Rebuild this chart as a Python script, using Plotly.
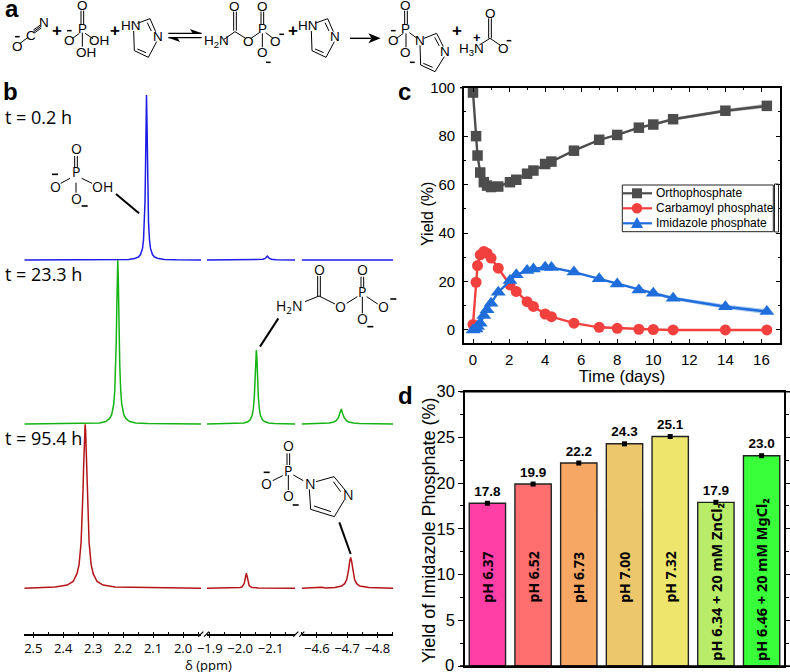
import plotly.graph_objects as go

W, H = 790, 672

# panel b: 31P NMR traces, three axis pieces per spectrum
blue_ppm_1 = [2.53, 2.222, 2.182, 2.162, 2.149, 2.142, 2.1353, 2.132, 2.1287, 2.127, 2.1253, 2.1237, 2.122, 2.1203, 2.1187, 2.117, 2.1153, 2.112, 2.1087, 2.102, 2.095, 2.082, 2.062, 2.022, 1.94]
blue_int_1 = [0, 0.2, 0.6, 1.4, 3, 5.4, 11.6, 20, 38, 58, 90, 137, 165, 137, 90, 58, 38, 20, 11.6, 5.4, 3, 1.4, 0.6, 0.2, 0]
blue_ppm_2 = [-1.89, -2.06, -2.075, -2.082, -2.086, -2.089, -2.092, -2.096, -2.103, -2.118, -2.18]
blue_int_2 = [0, 0.2, 0.7, 1.6, 3, 4, 3, 1.6, 0.7, 0.2, 0]
blue_ppm_3 = [-4.55, -4.853]
blue_int_3 = [0, 0]

green_ppm_1 = [2.53, 2.318, 2.278, 2.258, 2.245, 2.238, 2.2313, 2.228, 2.2247, 2.223, 2.2213, 2.2197, 2.218, 2.2163, 2.2147, 2.213, 2.2113, 2.208, 2.2047, 2.198, 2.191, 2.178, 2.158, 2.118, 1.94]
green_int_1 = [0, 0.4, 1.1, 2.5, 5.6, 9.6, 20, 33, 59, 82, 113.5, 148, 164, 148, 113.5, 82, 59, 33, 20, 9.6, 5.6, 2.5, 1.1, 0.4, 0]
green_ppm_2 = [-1.89, -1.993, -2.013, -2.026, -2.033, -2.0397, -2.043, -2.0463, -2.048, -2.0497, -2.0513, -2.053, -2.0547, -2.0563, -2.058, -2.0597, -2.063, -2.0663, -2.073, -2.08, -2.093, -2.113, -2.18]
green_int_2 = [0, 0.5, 1.1, 2.5, 4.3, 9, 15, 26.6, 37, 51, 67, 74, 67, 51, 37, 26.6, 15, 9, 4.3, 2.5, 1.1, 0.5, 0]
green_ppm_3 = [-4.55, -4.62, -4.641, -4.656, -4.664, -4.671, -4.676, -4.681, -4.686, -4.691, -4.698, -4.706, -4.721, -4.741, -4.853]
green_int_3 = [0, 0.4, 0.9, 2, 3.3, 6, 10, 15, 10, 6, 3.3, 2, 0.9, 0.4, 0]

red_ppm_1 = [2.53, 2.427, 2.387, 2.367, 2.354, 2.347, 2.3403, 2.337, 2.3337, 2.332, 2.3303, 2.3287, 2.327, 2.3253, 2.3237, 2.322, 2.3203, 2.317, 2.3137, 2.307, 2.3, 2.287, 2.267, 2.227, 1.94]
red_int_1 = [0, 1.2, 3.2, 6.8, 14.6, 24, 46, 67, 100, 120.6, 141, 158, 164, 158, 141, 120.6, 100, 67, 46, 24, 14.6, 6.8, 3.2, 1.2, 0]
red_ppm_2 = [-1.89, -1.98, -2.0, -2.007, -2.0107, -2.0133, -2.0153, -2.0173, -2.02, -2.0227, -2.0247, -2.0267, -2.0293, -2.033, -2.04, -2.06, -2.18]
red_int_2 = [0, 0.3, 0.9, 1.6, 3, 5, 8, 12, 15, 12, 8, 5, 3, 1.6, 0.9, 0.3, 0]
red_ppm_3 = [-4.55, -4.605, -4.617, -4.628, -4.66, -4.682, -4.692, -4.699, -4.702, -4.7053, -4.7087, -4.712, -4.7153, -4.7187, -4.722, -4.725, -4.732, -4.742, -4.772, -4.853]
red_int_3 = [0, 0.3, 1.1, 0.3, 0.7, 2.2, 4.6, 8.7, 12.7, 19, 26.7, 31, 26.7, 19, 12.7, 8.7, 4.6, 2.2, 0.7, 0]

ppm_ticks_1 = [2.5, 2.4, 2.3, 2.2, 2.1, 2.0]
ppm_ticks_2 = [-1.9, -2.0, -2.1]
ppm_ticks_3 = [-4.6, -4.7, -4.8]

# panel c
days = [0, 0.17, 0.25, 0.4, 0.6, 0.78, 1, 1.4, 2.05, 2.4, 3, 3.35, 4, 4.35, 5.6, 7, 8, 9.2, 10, 11.1, 14, 16.3]
ortho = [98, 80, 72, 65, 61, 59.6, 59, 59.2, 61, 62, 64.5, 65.8, 68.5, 69.5, 74, 78.5, 80.5, 83.5, 84.8, 87, 90.5, 92.5]
carbamoyl = [2.3, 19.7, 26.6, 31, 32.4, 31.7, 29.7, 25.5, 18.6, 15.9, 11.7, 9.7, 6.6, 5.5, 2.8, 1.1, 0.7, 0.3, 0.2, 0, 0, 0]
imidazole = [0, 0.4, 1.4, 2.8, 6, 8.3, 11, 15.6, 20.4, 22.8, 24.5, 25.2, 25.9, 25.8, 23.9, 21.1, 19, 16.5, 15.2, 13.1, 9.6, 7.6]
ortho_err = [0.2, 0.2, 0.2, 0.2, 0.2, 0.2, 0.2, 0.2, 0.2, 0.2, 0.2, 0.2, 0.2, 0.3, 0.3, 0.3, 0.4, 0.4, 0.5, 0.6, 0.7, 0.9]
carbamoyl_err = [0.1, 0.1, 0.1, 0.1, 0.1, 0.1, 0.1, 0.1, 0.1, 0.1, 0.1, 0.1, 0.1, 0.1, 0.1, 0.1, 0.1, 0.1, 0.1, 0.1, 0.1, 0.1]
imidazole_err = [0.1, 0.1, 0.1, 0.1, 0.1, 0.1, 0.2, 0.2, 0.2, 0.2, 0.2, 0.2, 0.3, 0.3, 0.3, 0.4, 0.4, 0.5, 0.6, 0.7, 0.9, 1.0]

# panel d
ph_labels = ["pH 6.37", "pH 6.52", "pH 6.73", "pH 7.00", "pH 7.32", "pH 6.34 + 20 mM ZnCl₂", "pH 6.46 + 20 mM MgCl₂"]
ph_yield = [17.8, 19.9, 22.2, 24.3, 25.1, 17.9, 23.0]
ph_text = ["17.8", "19.9", "22.2", "24.3", "25.1", "17.9", "23.0"]
ph_colors = ["#ff3fa6", "#ff6f6f", "#f6a763", "#ecc76b", "#ece66d", "#b9ec69", "#39ff3a"]


def px(x):
    return x / W


def py(y):
    return 1 - y / H


fig = go.Figure()

# spectra: y axis is stacked, one unit = one pixel
offsets = {"blue": 374, "green": 210, "red": 45.7}
line_colors = {"blue": "#1c1ce6", "green": "#14b414", "red": "#b41418"}
spectra = [
    ("blue", blue_ppm_1, blue_int_1, "x"), ("blue", blue_ppm_2, blue_int_2, "x2"), ("blue", blue_ppm_3, blue_int_3, "x3"),
    ("green", green_ppm_1, green_int_1, "x"), ("green", green_ppm_2, green_int_2, "x2"), ("green", green_ppm_3, green_int_3, "x3"),
    ("red", red_ppm_1, red_int_1, "x"), ("red", red_ppm_2, red_int_2, "x2"), ("red", red_ppm_3, red_int_3, "x3"),
]
for name, ppm, intensity, xa in spectra:
    fig.add_trace(go.Scatter(
        x=ppm, y=[v + offsets[name] for v in intensity], mode="lines", xaxis=xa, yaxis="y",
        line=dict(color=line_colors[name], width=1.5), showlegend=False, hoverinfo="skip"))

# kinetics
GRAY, RED, BLUE = "#4d4d4d", "#f2403f", "#1f6edc"
kinetics = [
    ("Orthophosphate", ortho, ortho_err, GRAY, "square", 10.5, "rgba(77,77,77,0.35)"),
    ("Carbamoyl phosphate", carbamoyl, carbamoyl_err, RED, "circle", 11, "rgba(242,64,63,0.35)"),
    ("Imidazole phosphate", imidazole, imidazole_err, BLUE, "triangle-up", 13, "rgba(31,110,220,0.35)"),
]
for name, vals, err, col, sym, size, band in kinetics:
    upper = [v + e for v, e in zip(vals, err)]
    lower = [v - e for v, e in zip(vals, err)]
    fig.add_trace(go.Scatter(
        x=days + days[::-1], y=upper + lower[::-1], xaxis="x4", yaxis="y4", mode="lines",
        fill="toself", fillcolor=band, line=dict(width=0), showlegend=False, hoverinfo="skip"))
    fig.add_trace(go.Scatter(
        x=days, y=vals, name=name, xaxis="x4", yaxis="y4", mode="lines+markers", cliponaxis=False,
        line=dict(color=col, width=2.4), marker=dict(color=col, symbol=sym, size=size), showlegend=False))

# bars
positions = list(range(len(ph_yield)))
fig.add_trace(go.Bar(
    x=positions, y=ph_yield, xaxis="x5", yaxis="y5", width=0.795, showlegend=False,
    marker=dict(color=ph_colors, line=dict(color="#222222", width=1.4))))
fig.add_trace(go.Scatter(
    x=positions, y=ph_yield, xaxis="x5", yaxis="y5", mode="markers+text", text=ph_text,
    textposition="top center", showlegend=False, cliponaxis=False,
    textfont=dict(family="Liberation Sans", size=13.5, color="black", weight="bold"),
    marker=dict(color="black", symbol="square", size=5)))

annotations = []
shapes = []


def label(x, y, text, size=13, family="Liberation Sans", bold=False, anchor="center", angle=0):
    if bold:
        text = "<b>" + text + "</b>"
    annotations.append(dict(
        x=px(x), y=py(y), xref="paper", yref="paper", text=text, showarrow=False, xanchor=anchor,
        yanchor="middle", textangle=angle, font=dict(family=family, size=size, color="black")))


def bond(x0, y0, x1, y1, width=1.0, color="black"):
    shapes.append(dict(type="line", xref="paper", yref="paper", x0=px(x0), y0=py(y0), x1=px(x1), y1=py(y1),
                       line=dict(color=color, width=width)))


def fill_path(points, color="black"):
    d = "M " + " L ".join(f"{px(x)},{py(y)}" for x, y in points) + " Z"
    shapes.append(dict(type="path", xref="paper", yref="paper", path=d, fillcolor=color, line=dict(width=0)))


# panel a is traced on a 3x grid
def za(x0, y0, x1, y1, width=1.0):
    bond(x0 / 3, y0 / 3, x1 / 3, y1 / 3, width)


def la(x, y, text, size=13.5, bold=False):
    label(x / 3, y / 3, text, size=size, bold=bold)


def minus_a(x, y):
    za(x - 7, y, x + 7, y, 1.5)


def imidazole_a(dx):
    la(392 + dx, 78, "HN")
    la(473 + dx, 110, "N")
    za(412 + dx, 70, 450 + dx, 56)
    za(450 + dx, 56, 467 + dx, 95)
    za(442 + dx, 68, 454 + dx, 93)
    za(470 + dx, 125, 445 + dx, 172)
    za(445 + dx, 172, 403 + dx, 152)
    za(438 + dx, 158, 412 + dx, 147)
    za(403 + dx, 152, 401 + dx, 93)


label(3, 9, "a", size=24, bold=True, anchor="left")
label(1, 92, "b", size=24, bold=True, anchor="left")
label(396, 92, "c", size=24, bold=True, anchor="left")
label(396, 395, "d", size=24, bold=True, anchor="left")

# cyanate
la(52, 140, "O")
minus_a(52, 110)
la(92, 105, "C")
la(133, 68, "N")
za(60, 130, 84, 112)
za(102, 94, 122, 80)
za(100, 90, 120, 76)
za(104, 98, 124, 84)
la(170, 93, "+", 17, True)
# phosphate
la(247, 17, "O")
la(247, 85, "P")
la(208, 122, "O")
minus_a(208, 92)
la(298, 122, "OH")
la(257, 157, "OH")
za(243, 32, 243, 72)
za(251, 32, 251, 72)
za(218, 115, 238, 100)
za(255, 100, 279, 116)
za(247, 98, 247, 140)
la(345, 93, "+", 17, True)
imidazole_a(0)
# equilibrium arrows
za(505, 100, 605, 100, 1.4)
fill_path([(570 / 3, 87 / 3), (605 / 3, 100 / 3), (578 / 3, 100 / 3)])
za(505, 113, 605, 113, 1.4)
fill_path([(505 / 3, 113 / 3), (540 / 3, 126 / 3), (532 / 3, 113 / 3)])
# carbamoyl phosphate
la(650, 125, "H<sub>2</sub>N")
la(705, 20, "O")
la(745, 123, "O")
la(787, 20, "O")
la(787, 85, "P")
la(827, 123, "O")
minus_a(845, 103)
la(787, 157, "O")
minus_a(805, 187)
za(672, 118, 705, 95)
za(705, 95, 737, 115)
za(701, 35, 701, 92)
za(709, 35, 709, 92)
za(753, 115, 778, 98)
za(783, 35, 783, 72)
za(791, 35, 791, 72)
za(797, 98, 819, 115)
za(787, 100, 787, 142)
la(880, 93, "+", 17, True)
imidazole_a(533)
# reaction arrow
za(1050, 115, 1115, 115, 1.4)
fill_path([(1105 / 3, 100 / 3), (1142 / 3, 115 / 3), (1105 / 3, 130 / 3), (1115 / 3, 115 / 3)])
# imidazole phosphate
la(1218, 17, "O")
la(1218, 85, "P")
la(1180, 122, "O")
minus_a(1180, 92)
la(1218, 157, "O")
minus_a(1237, 187)
la(1260, 122, "N")
la(1335, 155, "N")
za(1214, 32, 1214, 72)
za(1222, 32, 1222, 72)
za(1190, 115, 1210, 100)
za(1228, 98, 1250, 114)
za(1218, 100, 1218, 142)
za(1272, 115, 1310, 100)
za(1310, 100, 1330, 140)
za(1304, 112, 1318, 138)
za(1333, 170, 1305, 215)
za(1305, 215, 1262, 195)
za(1298, 202, 1270, 190)
za(1262, 195, 1260, 136)
la(1370, 93, "+", 17, True)
# carbamate
la(1415, 150, "H<sub>3</sub>N")
la(1430, 112, "+", 13, True)
la(1470, 40, "O")
la(1510, 145, "O")
minus_a(1527, 122)
za(1438, 135, 1470, 115)
za(1470, 115, 1500, 135)
za(1466, 55, 1466, 115)
za(1474, 55, 1474, 115)

# panel b labels and structures
CHEM = "Open Sans"
label(3, 117, "t = 0.2 h", size=18, family=CHEM, anchor="left")
label(3, 274, "t = 23.3 h", size=18, family=CHEM, anchor="left")
label(3, 438, "t = 95.4 h", size=18, family=CHEM, anchor="left")


def zb(x0, y0, x1, y1, base, width=1.0):
    bond(x0 / 3, base + y0 / 3, x1 / 3, base + y1 / 3, width)


def lb(x, y, text, base, size=14):
    label(x / 3, base + y / 3, text, size=size, family=CHEM)


def minus_b(x, y, base):
    zb(x - 9, y, x + 9, y, base, 1.6)


# orthophosphate
lb(228, 205, "O", 80)
lb(228, 275, "P", 80)
lb(165, 318, "O", 80)
minus_b(165, 283, 80)
lb(308, 318, "OH", 80)
lb(228, 355, "O", 80)
minus_b(254, 378, 80)
zb(224, 228, 224, 262, 80)
zb(232, 228, 232, 262, 80)
zb(182, 310, 210, 295, 80)
zb(245, 295, 276, 310, 80)
zb(228, 308, 228, 338, 80)
zb(348, 342, 417, 400, 80, 2)

# carbamoyl phosphate
lb(957, 567, "O", 80)
lb(1087, 567, "O", 80)
lb(1087, 635, "P", 80)
lb(868, 680, "H<sub>2</sub>N", 80)
lb(1022, 680, "O", 80)
lb(1150, 680, "O", 80)
minus_b(1180, 657, 80)
lb(1087, 55, "O", 300)
minus_b(1111, 80, 300)
zb(953, 588, 953, 650, 80)
zb(961, 588, 961, 650, 80)
zb(915, 665, 957, 648, 80)
zb(957, 648, 1005, 672, 80)
zb(1040, 670, 1072, 650, 80)
zb(1083, 590, 1083, 622, 80)
zb(1091, 590, 1091, 622, 80)
zb(1100, 650, 1133, 672, 80)
zb(1087, 650, 1087, 700, 80)
zb(835, 55, 780, 140, 300, 2)

# imidazole phosphate
lb(865, 437, "O", 300)
lb(865, 510, "P", 300)
lb(800, 550, "O", 300)
minus_b(800, 517, 300)
lb(930, 550, "N", 300)
lb(865, 587, "O", 300)
minus_b(887, 615, 300)
lb(1045, 582, "N", 300)
zb(861, 460, 861, 495, 300)
zb(869, 460, 869, 495, 300)
zb(818, 542, 848, 527, 300)
zb(880, 525, 910, 542, 300)
zb(865, 525, 865, 570, 300)
zb(948, 545, 1002, 530, 300)
zb(1002, 530, 1035, 570, 300)
zb(1000, 545, 1022, 575, 300)
zb(1033, 600, 1003, 650, 300)
zb(1003, 650, 932, 628, 300)
zb(993, 635, 942, 618, 300)
zb(932, 628, 928, 568, 300)
zb(1018, 667, 1052, 762, 300, 2)

# axis breaks
for x0 in [198.3, 204, 293.3, 299.3]:
    bond(x0, 636.7, x0 + 5, 631.7, 1.2)
label(208, 665, "δ (ppm)", size=13, family=CHEM)

# panel d top and bottom lines run past the frame
bond(460, 391.7, 790, 391.7, 1.5)
bond(460, 666, 790, 666, 1.5)
bond(460, 87.7, 464, 87.7, 1.5)

# axis titles and the 0 label that would fall off the page
label(427, 214, "Yield (%)", size=16, angle=-90)
label(429, 531, "Yield of Imidazole Phosphate (%)", size=18, angle=-90)
label(455.5, 665, "0", size=16.5, anchor="right")

# legend block for panel c, the rows sit closer than the plotly legend allows
shapes.append(dict(type="rect", xref="paper", yref="paper", x0=px(622.3), x1=px(773.3), y0=py(231.7), y1=py(185),
                   line=dict(color="#222222", width=1)))
shapes.append(dict(type="rect", xref="paper", yref="paper", x0=px(774.5), x1=px(778.5), y0=py(232), y1=py(184),
                   line=dict(color="#222222", width=1)))
for row_y, (name, col) in zip([193.3, 208.3, 223.3], [("Orthophosphate", GRAY), ("Carbamoyl phosphate", RED), ("Imidazole phosphate", BLUE)]):
    bond(623, row_y, 652, row_y, 2.2, col)
    label(654, row_y, name, size=12, anchor="left")
fill_path([(632, 188.3), (642, 188.3), (642, 198.3), (632, 198.3)], GRAY)
shapes.append(dict(type="circle", xref="paper", yref="paper", x0=px(631.7), x1=px(642.3), y0=py(213.6), y1=py(203),
                   fillcolor=RED, line=dict(width=0)))
fill_path([(631, 228), (637, 217), (643, 228)], BLUE)

# rotated labels inside the bars
for i, text in enumerate(ph_labels):
    long_label = i >= 5
    annotations.append(dict(
        x=i, y=0.35 if long_label else 9.7, xref="x5", yref="y5", text=text, textangle=-90, showarrow=False,
        xanchor="center", yanchor="bottom" if long_label else "middle",
        font=dict(family="Noto Sans", size=14.5 if long_label else 14, color="black", weight="bold")))

spec_axis = dict(
    showgrid=False, zeroline=False, showline=True, linecolor="black", linewidth=1.5, anchor="y",
    ticks="outside", ticklen=2, tickcolor="black", tickwidth=1.2,
    tickfont=dict(family=CHEM, size=13, color="black"), tickformat=".1f",
    minor=dict(ticks="inside", dtick=0.05, ticklen=2, tickcolor="black", tickwidth=1),
)
frame = dict(
    showgrid=False, zeroline=False, showline=True, linecolor="black", linewidth=1.6,
    ticks="inside", ticklen=4, tickcolor="black", tickwidth=1.4,
)
tick_small = dict(ticks="inside", ticklen=2, tickcolor="black", tickwidth=1.2)

fig.update_layout(
    width=W, height=H, margin=dict(l=0, r=0, t=0, b=0, autoexpand=False), paper_bgcolor="white",
    plot_bgcolor="rgba(0,0,0,0)", showlegend=False, annotations=annotations, shapes=shapes, bargap=0.2,
    font=dict(family="Liberation Sans", color="black"),
    # panel b
    xaxis=dict(domain=[px(24.3), px(201)], range=[2.53, 1.94], tickvals=ppm_ticks_1, **spec_axis),
    xaxis2=dict(domain=[px(206.7), px(295)], range=[-1.89, -2.18], tickvals=ppm_ticks_2, **spec_axis),
    xaxis3=dict(domain=[px(301.7), px(393.3)], range=[-4.55, -4.853], tickvals=ppm_ticks_3, **spec_axis),
    yaxis=dict(domain=[py(634), py(90)], range=[0, 544], visible=False, fixedrange=True),
    # panel c
    xaxis4=dict(domain=[px(464), px(780)], range=[-0.5, 17.03], anchor="y4", mirror="allticks", dtick=2, tick0=0,
                minor=dict(dtick=1, **tick_small), tickfont=dict(size=15), ticklabelstandoff=2,
                title=dict(text="Time (days)", font=dict(size=16.5), standoff=0), **frame),
    yaxis4=dict(domain=[py(342.7), py(87.7)], range=[-5.25, 100], anchor="x4", mirror="allticks", dtick=20, tick0=0,
                minor=dict(dtick=10, **tick_small), tickfont=dict(size=15), ticklabelstandoff=4, **frame),
    # panel d
    xaxis5=dict(domain=[px(465), px(784)], range=[-0.49, 6.49], anchor="y5", mirror=True, showgrid=False,
                zeroline=False, showline=True, linecolor="black", linewidth=1.5, ticks="", showticklabels=False),
    yaxis5=dict(domain=[py(666), py(391.7)], range=[0, 30], anchor="x5", mirror="allticks", dtick=5, tick0=0,
                showgrid=False, zeroline=False, showline=True, linecolor="black", linewidth=1.5,
                ticks="outside", ticklen=5, tickcolor="black", tickwidth=1.4, tickfont=dict(size=16.5),
                minor=dict(dtick=2.5, ticks="outside", ticklen=3, tickcolor="black", tickwidth=1.2)),
)

# the default page margin would push the fixed-size figure off the window
fig.write_html("out.html", config={"displayModeBar": False}, post_script="document.body.style.margin = '0';")
